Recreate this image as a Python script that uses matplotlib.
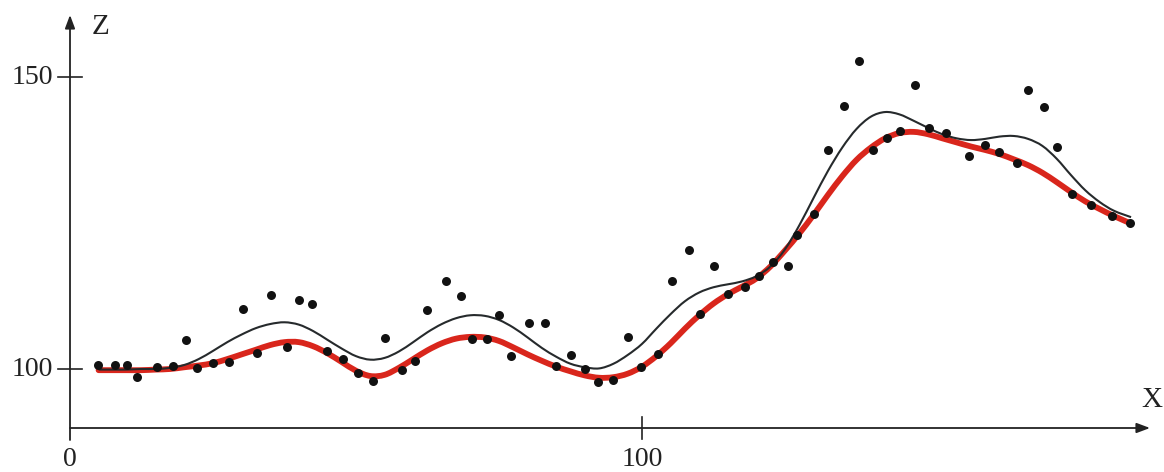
import matplotlib
matplotlib.use("Agg")
import matplotlib.pyplot as plt
from matplotlib.path import Path
from matplotlib.patches import PathPatch
import numpy as np

# ---------------- data ----------------
dots_x = [4.95, 7.87, 9.91, 11.77, 15.16, 17.95, 20.28, 22.15, 25.05, 27.85,
          30.19, 32.64, 35.19, 37.88, 40.09, 42.31, 44.88, 47.67, 50.3, 52.92,
          55.07, 57.99, 60.37, 62.47, 65.68, 68.3, 70.28, 72.95, 75.05, 77.15,
          80.19, 83.04, 84.97, 87.64, 90.03, 92.36, 94.98, 97.5, 99.88, 102.85,
          105.19, 108.27, 110.14, 112.64, 115.09, 118.0, 120.5, 122.85, 125.58, 127.17,
          130.0, 132.57, 135.31, 137.94, 140.44, 142.88, 145.1, 147.73, 150.23, 153.15,
          157.22, 159.91, 162.36, 165.5, 167.53, 170.28, 172.5, 175.12, 178.44, 182.12,
          185.31]
dots_z = [100.7, 100.7, 100.7, 98.7, 100.4, 100.5, 105.0, 100.1, 101.0, 101.2,
          110.2, 102.7, 112.6, 103.8, 111.9, 111.1, 103.1, 101.7, 99.3, 98.0,
          105.3, 99.8, 101.3, 110.1, 115.1, 112.5, 105.1, 105.1, 109.3, 102.2,
          107.9, 107.9, 100.5, 102.4, 100.0, 97.7, 98.2, 105.5, 100.3, 102.5,
          115.1, 120.3, 109.4, 117.6, 112.8, 114.1, 115.9, 118.4, 117.6, 122.9,
          126.5, 137.5, 145.0, 152.7, 137.5, 139.5, 140.8, 148.7, 141.2, 140.4,
          136.5, 138.4, 137.2, 135.3, 147.7, 144.8, 138.0, 130.0, 128.0, 126.2,
          125.0]

curve_x = [5, 7.5, 10, 12.5, 15, 17.5, 20, 22.5, 25, 27.5, 30, 32.5, 35, 37.5,
           40, 42.5, 45, 47.5, 50, 52.5, 55, 57.5, 60, 62.5, 65, 67.5, 70, 72.5,
           75, 77.5, 80, 82.5, 85, 87.5, 90, 92.5, 95, 97.5, 100, 102.5, 105,
           107.5, 110, 112.5, 115, 117.5, 120, 122.5, 125, 127.5, 130, 132.5,
           135, 137.5, 140, 142.5, 145, 147.5, 150, 152.5, 155, 157.5, 160,
           162.5, 165, 167.5, 170, 172.5, 175, 177.5, 180, 182.5, 185.5]

red_z = [99.8, 99.8, 99.8, 99.8, 99.9, 100.0, 100.3, 100.6, 101.0, 101.7, 102.5,
         103.3, 104.1, 104.6, 104.6, 103.9, 102.7, 101.2, 99.7, 98.8, 99.0, 100.2,
         101.7, 103.2, 104.4, 105.2, 105.5, 105.4, 104.8, 103.7, 102.5, 101.4,
         100.4, 99.6, 98.9, 98.5, 98.6, 99.2, 100.4, 102.2, 104.4, 106.9, 109.2,
         111.2, 112.8, 114.1, 115.5, 117.6, 120.3, 123.2, 126.4, 129.8, 133.0,
         135.8, 137.9, 139.5, 140.4, 140.6, 140.2, 139.5, 138.8, 138.1, 137.5,
         136.8, 135.9, 134.9, 133.6, 132.0, 130.3, 128.7, 127.4, 126.2, 124.9]

black_z = [99.9, 99.9, 99.9, 100.0, 100.0, 100.2, 100.7, 101.7, 103.1, 104.6,
           105.9, 107.0, 107.7, 108.0, 107.6, 106.5, 105.0, 103.5, 102.2, 101.6,
           101.9, 103.0, 104.6, 106.3, 107.7, 108.7, 109.2, 109.1, 108.4, 107.1,
           105.4, 103.6, 102.1, 100.9, 100.3, 100.1, 100.9, 102.4, 104.3, 106.9,
           109.4, 111.6, 113.1, 114.0, 114.5, 115.0, 115.9, 117.6, 120.5, 124.6,
           129.3, 133.9, 137.9, 141.1, 143.2, 144.0, 143.6, 142.5, 141.3, 140.2,
           139.5, 139.2, 139.4, 139.8, 139.9, 139.4, 138.2, 136.0, 133.2, 130.6,
           128.6, 127.1, 126.0]

x_ticks = [0, 100]
x_tick_labels = ["0", "100"]
z_ticks = [100, 150]
z_tick_labels = ["100", "150"]

# ---------------- figure ----------------
W, H = 1164, 472
fig = plt.figure(figsize=(W / 100, H / 100), dpi=100)
ax_left, ax_right, ax_top, ax_bot = 70, 1150, 15, 428
ax = fig.add_axes([ax_left / W, (H - ax_bot) / H,
                   (ax_right - ax_left) / W, (ax_bot - ax_top) / H])
XMIN, XMAX = 0, (ax_right - ax_left) / 5.72
ZMIN = 100 - (ax_bot - 369) / 5.84
ZMAX = 100 + (369 - ax_top) / 5.84
ax.set_xlim(XMIN, XMAX)
ax.set_ylim(ZMIN, ZMAX)
ax.axis("off")


def smooth_path(xs, ys):
    pts = np.column_stack([xs, ys]).astype(float)
    verts = [pts[0]]
    codes = [Path.MOVETO]
    n = len(pts)
    for i in range(n - 1):
        p0 = pts[i - 1] if i > 0 else pts[i]
        p1 = pts[i]
        p2 = pts[i + 1]
        p3 = pts[i + 2] if i + 2 < n else pts[i + 1]
        c1 = p1 + (p2 - p0) / 6.0
        c2 = p2 - (p3 - p1) / 6.0
        verts += [c1, c2, p2]
        codes += [Path.CURVE4] * 3
    return Path(verts, codes)


ax.add_patch(PathPatch(smooth_path(curve_x, red_z), facecolor="none",
                       edgecolor="#d9261c", lw=4.2, capstyle="round",
                       joinstyle="round", zorder=2, clip_on=False))
ax.add_patch(PathPatch(smooth_path(curve_x, black_z), facecolor="none",
                       edgecolor="#262a2c", lw=1.5, zorder=3, clip_on=False))
ax.scatter(dots_x, dots_z, s=42, color="#111111", zorder=4, clip_on=False,
           linewidths=0)

# axes with arrows
ax.annotate("", xy=(1.0, 0), xycoords="axes fraction",
            xytext=(0, 0), textcoords="axes fraction",
            arrowprops=dict(arrowstyle="-|>,head_length=0.8,head_width=0.3",
                            lw=1.3, color="#222222", shrinkA=0, shrinkB=0))
ax.annotate("", xy=(0, 1.0), xycoords="axes fraction",
            xytext=(0, -12 / (ax_bot - ax_top)), textcoords="axes fraction",
            arrowprops=dict(arrowstyle="-|>,head_length=0.8,head_width=0.3",
                            lw=1.3, color="#222222", shrinkA=0, shrinkB=0))

font = dict(family="Liberation Serif", size=20, color="#222222")

# x ticks
for xv, lab in zip(x_ticks, x_tick_labels):
    if xv != 0:
        ax.plot([xv, xv], [ZMIN - 11 / 5.84, ZMIN + 11 / 5.84], color="#222222",
                lw=1.2, clip_on=False, zorder=5)
    ax.text(xv, ZMIN - 32 / 5.84, lab, ha="center", va="center",
            clip_on=False, **font)
# z ticks
for zv, lab in zip(z_ticks, z_tick_labels):
    ax.plot([-12 / 5.72, 12 / 5.72], [zv, zv], color="#222222", lw=1.2,
            clip_on=False, zorder=5)
    ax.text(-17 / 5.72, zv, lab, ha="right", va="center", clip_on=False, **font)

ax.text(22 / 5.72, ZMAX - 12 / 5.84, "Z", ha="left", va="center",
        clip_on=False, **dict(font, size=21))
ax.text(XMAX + 2 / 5.72, ZMIN + 28 / 5.84, "X", ha="center", va="center",
        clip_on=False, **dict(font, size=21))

fig.savefig("out.png", dpi=100)
